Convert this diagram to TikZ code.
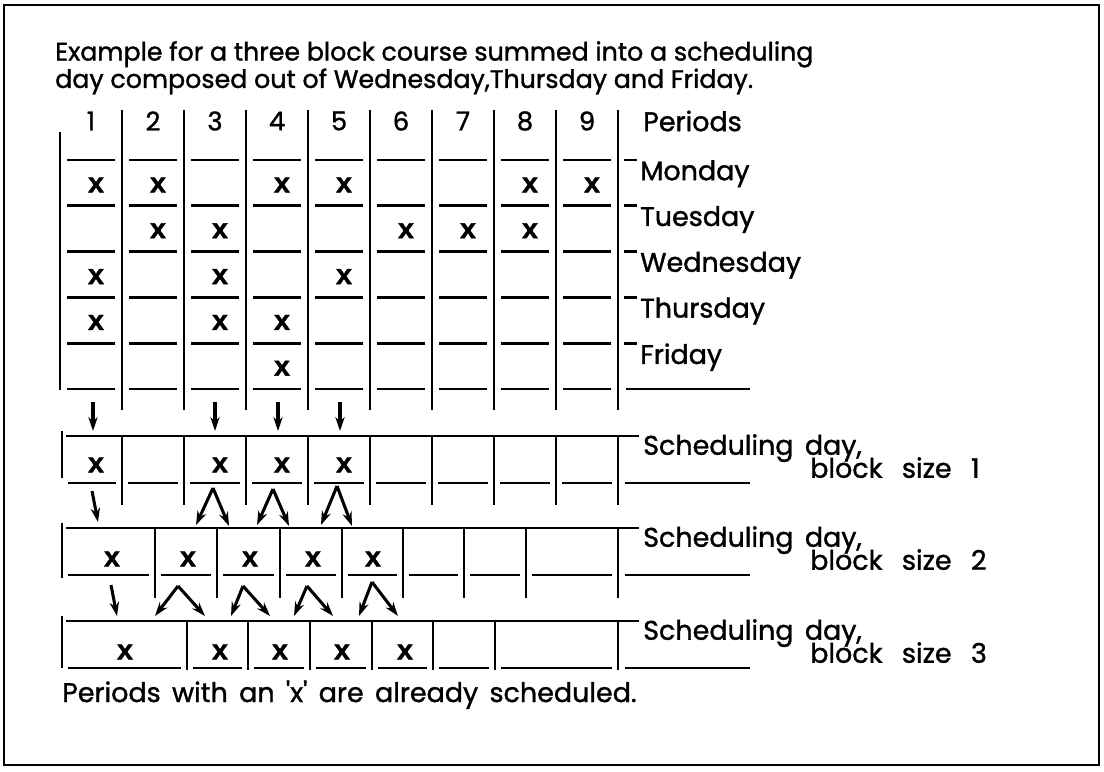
\documentclass[tikz,border=0pt]{standalone}
\usepackage{fontspec}
\setmainfont{Poppins}[Ligatures=TeXOff, FakeBold=1.3]
\newfontfamily\xfont{Liberation Mono}[FakeBold=1.5]
\newcommand\widesp{\spaceskip 0.42em\relax}
\usetikzlibrary{arrows.meta}

\begin{document}
\begin{tikzpicture}[
    x=0.03cm, y=-0.03cm,
    txt/.style={inner sep=0pt, font=\fontsize{23}{24}\selectfont\widesp},
    lab/.style={txt, anchor=north west},
    xmark/.style={inner sep=0pt, font=\xfont\bfseries\fontsize{24}{24}\selectfont},
    rule/.style={line width=2.3pt},
    edge/.style={-{Stealth[length=4.2mm, width=2.8mm]}, line width=2.6pt}
]
\useasboundingbox (0,0) rectangle (1104,771);
\draw[line width=1.5pt] (4,5) rectangle (1099,765);

\node[txt, anchor=north west, align=left, font=\fontsize{21.6}{17.5}\selectfont] (title) at (55,41)
  {Example for a three block course summed into a scheduling\\day composed out of Wednesday,Thursday and Friday.};

% periods of the week
\foreach \i in {1,...,9} {
  \node[txt, font=\fontsize{22}{24}\selectfont] (head\i) at ({60+62*\i-31},121) {\i};
  \draw[rule] ({60+62*\i},110) -- ({60+62*\i},410);
  \foreach \j in {0,...,5}
    \draw[rule] ({60+62*\i-55},{160+45.8*\j}) -- ({60+62*\i-7},{160+45.8*\j});
}
\draw[rule] (60,132) -- (60,390);
\node[txt, anchor=west] (periods) at (643,121) {Periods};

\foreach \d [count=\j from 0] in {Monday,Tuesday,Wednesday,Thursday,Friday} {
  \draw[rule] (624,{160+45.8*\j}) -- (637,{160+45.8*\j});
  \node[lab] (day\j) at (640,{160+45.8*\j}) {\d};
}
\draw[rule] (626,389) -- (750,389);

\foreach \cols [count=\j from 0] in {{1,2,4,5,8,9},{2,3,6,7,8},{1,3,5},{1,3,4},{4}}
  \foreach \i in \cols
    \node[xmark] (w\j-\i) at ({60+62*\i-26},{185+45.8*\j}) {x};

\foreach \c/\xx in {1/93,3/215,4/278,5/340} {
  \coordinate (up\c) at (\xx,402);
  \coordinate (dn\c) at (\xx,431);
  \draw[edge] (up\c) -- (dn\c);
}

% scheduling day, block size 1
\draw[rule] (62,431) -- (62,478);
\draw[rule] (66,436) -- (639,436);
\foreach \l/\r in {62/122,122/184,184/246,246/308,308/370,370/432,432/494,494/556,556/618} {
  \draw[rule] ({\l+6},483) -- ({\r-6},483);
  \draw[rule] (\r,436) -- (\r,505);
}
\draw[rule] (625,483) -- (750,483);
\foreach \i in {1,3,4,5}
  \node[xmark] (a\i) at ({60+62*\i-26},465) {x};
\node[lab] (dayA) at (643,434) {Scheduling day,};
\node[lab] (sizeA) at (810,457) {block\hspace{0.3em} size\hspace{0.3em} 1};

\coordinate (a1s) at (92,491);
\coordinate (b1e) at (98,522);
\draw[edge] (a1s) -- (b1e);
\foreach \k/\ax/\ay/\lx/\rx in {3/213/488/196/229,4/273/489/257/289,5/337/486/321/352} {
  \coordinate (fa\k) at (\ax,\ay);
  \coordinate (fl\k) at (\lx,525);
  \coordinate (fr\k) at (\rx,526);
  \draw[edge] (fa\k) -- (fl\k);
  \draw[edge] (fa\k) -- (fr\k);
}

% scheduling day, block size 2
\draw[rule] (62,523) -- (62,578);
\draw[rule] (66,528) -- (639,528);
\foreach \l/\r in {62/155,155/217,217/280,280/342,342/403,403/464,464/526,526/618} {
  \draw[rule] ({\l+6},575) -- ({\r-6},575);
  \draw[rule] (\r,528) -- (\r,598);
}
\draw[rule] (625,575) -- (750,575);
\foreach \xx [count=\k] in {112,188,250,313,373}
  \node[xmark] (b\k) at (\xx,559) {x};
\node[lab] (dayB) at (643,526) {Scheduling day,};
\node[lab] (sizeB) at (810,549) {block\hspace{0.3em} size\hspace{0.3em} 2};

\coordinate (b1s) at (111,585);
\coordinate (c1e) at (117,616);
\draw[edge] (b1s) -- (c1e);
\foreach \k/\ax/\ay/\lx/\rx in {2/178/586/155/205,3/243/586/231/270,4/307/586/294/333,5/372/582/359/398} {
  \coordinate (ga\k) at (\ax,\ay);
  \coordinate (gl\k) at (\lx,616);
  \coordinate (gr\k) at (\rx,616);
  \draw[edge] (ga\k) -- (gl\k);
  \draw[edge] (ga\k) -- (gr\k);
}

% scheduling day, block size 3
\draw[rule] (62,616) -- (62,668);
\draw[rule] (66,621) -- (639,621);
\foreach \l/\r in {62/187,187/248,248/310,310/372,372/433,433/495,495/618} {
  \draw[rule] ({\l+6},668) -- ({\r-6},668);
  \draw[rule] (\r,621) -- (\r,670);
}
\draw[rule] (625,668) -- (750,668);
\foreach \xx [count=\k] in {125,220,280,342,405}
  \node[xmark] (c\k) at (\xx,652) {x};
\node[lab] (dayC) at (643,619) {Scheduling day,};
\node[lab] (sizeC) at (810,642) {block\hspace{0.3em} size\hspace{0.3em} 3};

\node[txt, anchor=base west] (note) at (62,702) {Periods with an 'x' are already scheduled.};
\end{tikzpicture}
\end{document}
